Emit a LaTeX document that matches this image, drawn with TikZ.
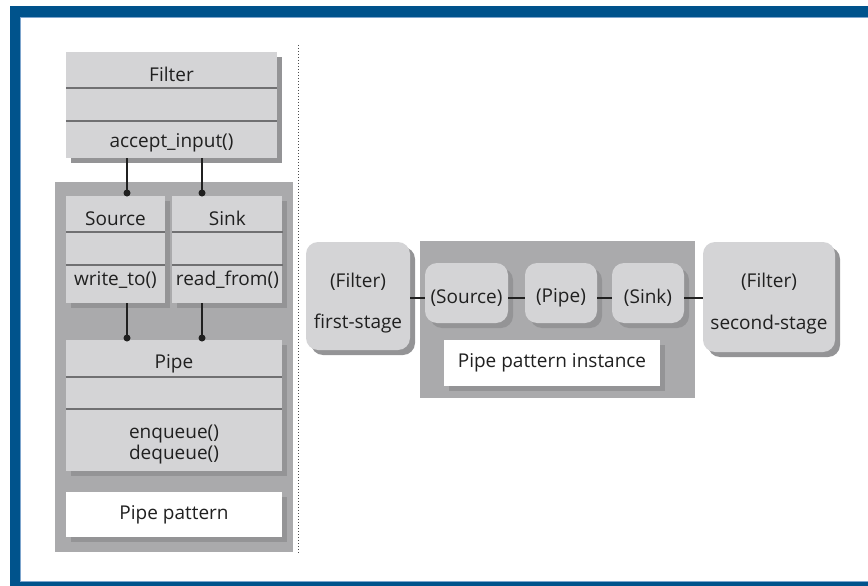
\documentclass[tikz,border=0pt]{standalone}
\usepackage{fontspec}
\setmainfont{Open Sans}
\usetikzlibrary{positioning,calc,shadows}
\definecolor{frameblue}{RGB}{0,83,140}
\definecolor{edgeblue}{RGB}{125,165,205}
\definecolor{boxgray}{RGB}{212,212,214}
\definecolor{panelgray}{RGB}{170,170,172}
\definecolor{shadegray}{RGB}{148,148,150}
\definecolor{divgray}{RGB}{112,112,114}
\definecolor{inkgray}{RGB}{32,32,32}

\begin{document}
\begin{tikzpicture}[x=1pt,y=-1pt,
    every node/.style={text=inkgray,font=\fontsize{19}{22}\selectfont},
    shade/.style={drop shadow={shadow xshift=5pt,shadow yshift=-5pt,fill=shadegray,opacity=1}},
    cls/.style={rectangle,fill=boxgray,shade,inner sep=0pt},
    obj/.style={rectangle,rounded corners=12pt,fill=boxgray,shade,inner sep=0pt},
    panel/.style={rectangle,fill=panelgray,inner sep=0pt},
    caption/.style={rectangle,fill=white,shade,inner sep=0pt},
    divider/.style={draw=divgray,line width=2pt},
    link/.style={draw=inkgray,line width=1.4pt},
    dot/.style={circle,fill=inkgray,inner sep=0pt,minimum size=7pt},
    member/.style={anchor=base}]
    \useasboundingbox (0,0) rectangle (868,586);

    % frame
    \fill[frameblue] (10,6) rectangle (868,17);
    \fill[frameblue] (10,6) rectangle (20,586);
    \fill[frameblue] (10,582) rectangle (868,586);
    \draw[edgeblue,line width=1pt] (868,17.5) -- (20.5,17.5) -- (20.5,581.5) -- (868,581.5);
    \draw[black!70,dotted,line width=1pt] (298,45) -- (298,553);

    % pipe pattern (classes)
    \node[panel,minimum width=238pt,minimum height=370pt] (pattern) at (174,367) {};
    \node[cls,minimum width=211pt,minimum height=106pt] (filter) at (171.5,105) {};
    \node[cls,minimum width=99pt,minimum height=107pt] (source) at (115.5,249.5) {};
    \node[cls,minimum width=110pt,minimum height=107pt] (sink) [right=7pt of source] {};
    \node[cls,minimum width=216pt,minimum height=131pt] (pipe) at (174,405.5) {};
    \node[caption,minimum width=216pt,minimum height=45pt] (patterncap) at (174,514.5) {Pipe pattern};

    \draw[divider] ($(filter.north west)+(0,36)$) -- ($(filter.north east)+(0,36)$);
    \draw[divider] ($(filter.north west)+(0,69)$) -- ($(filter.north east)+(0,69)$);
    \draw[divider] ($(source.north west)+(0,36)$) -- ($(source.north east)+(0,36)$);
    \draw[divider] ($(source.north west)+(0,69)$) -- ($(source.north east)+(0,69)$);
    \draw[divider] ($(sink.north west)+(0,36)$) -- ($(sink.north east)+(0,36)$);
    \draw[divider] ($(sink.north west)+(0,69)$) -- ($(sink.north east)+(0,69)$);
    \draw[divider] ($(pipe.north west)+(0,37)$) -- ($(pipe.north east)+(0,37)$);
    \draw[divider] ($(pipe.north west)+(0,69)$) -- ($(pipe.north east)+(0,69)$);

    \node[member] (filter-name) at ($(filter.north)+(0,30)$) {Filter};
    \node[member] (filter-op) at ($(filter.south)+(0,-11)$) {accept\_input()};
    \node[member] (source-name) at ($(source.north)+(0,30)$) {Source};
    \node[member] (source-op) at ($(source.south)+(0,-18)$) {write\_to()};
    \node[member] (sink-name) at ($(sink.north)+(0,30)$) {Sink};
    \node[member] (sink-op) at ($(sink.south)+(0,-18)$) {read\_from()};
    \node[member] (pipe-name) at ($(pipe.north)+(0,29)$) {Pipe};
    \node[member] (pipe-op1) at ($(pipe.south)+(0,-33)$) {enqueue()};
    \node[member] (pipe-op2) at ($(pipe.south)+(0,-12)$) {dequeue()};

    \node[dot] (d1) at (127,193) {};
    \node[dot] (d2) at (202,193) {};
    \node[dot] (d3) at (127,338) {};
    \node[dot] (d4) at (202,338) {};
    \draw[link] (filter.south -| d1) -- (d1.center);
    \draw[link] (filter.south -| d2) -- (d2.center);
    \draw[link] (source.south -| d3) -- (d3.center);
    \draw[link] (sink.south -| d4) -- (d4.center);

    % pipe pattern instance
    \node[panel,minimum width=275pt,minimum height=157pt] (instance) at (557.5,319.5) {};
    \node[obj,minimum width=104pt,minimum height=108pt,
      label={[name=first-t,align=center,font=\fontsize{19}{41}\selectfont,yshift=-7pt]center:{(Filter)\\first-stage}}] (first) at (358,296) {};
    \node[obj,minimum width=83pt,minimum height=60pt,label={[name=src-t,yshift=-5pt]center:(Source)}] (src) at (466.5,293) {};
    \node[obj,minimum width=72pt,minimum height=60pt,label={[name=pp-t,yshift=-5pt]center:(Pipe)}] (pp) at (561,293) {};
    \node[obj,minimum width=72pt,minimum height=60pt,label={[name=snk-t,yshift=-5pt]center:(Sink)}] (snk) at (648,293) {};
    \node[obj,minimum width=132pt,minimum height=110pt,
      label={[name=second-t,align=center,font=\fontsize{19}{42}\selectfont,yshift=-7pt]center:{(Filter)\\second-stage}}] (second) at (769,297) {};
    \node[caption,minimum width=216pt,minimum height=46pt] (instancecap) at (552,362.5) {Pipe pattern instance};

    \draw[link] (first.east |- src-t) -- (src.west |- src-t);
    \draw[link] (src.east |- src-t) -- (pp.west |- src-t);
    \draw[link] (pp.east |- src-t) -- (snk.west |- src-t);
    \draw[link] (snk.east |- src-t) -- (second.west |- src-t);
\end{tikzpicture}
\end{document}
